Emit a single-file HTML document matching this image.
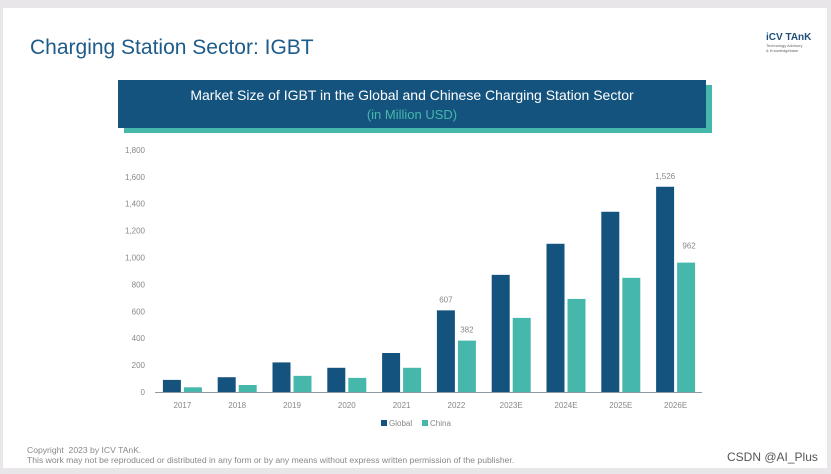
<!DOCTYPE html>
<html><head><meta charset="utf-8"><style>
body{margin:0;width:831px;height:474px;background:#e9e6ea;font-family:"Liberation Sans",sans-serif;overflow:hidden;position:relative}
#slide{position:absolute;left:3px;top:8px;width:824px;height:460px;background:#fff}
.t{position:absolute;white-space:nowrap}
</style></head><body>
<div id="slide"></div>
<div class="t" style="left:30px;top:36px;font-size:21px;color:#1d5b8a">Charging Station Sector: IGBT</div>
<div class="t" style="left:766px;top:32px;font-size:10px;font-weight:bold;color:#1d4f7a">iCV TAnK<div style="font-size:4px;font-weight:normal;color:#666;line-height:5px">Technology Advisory<br>&amp; Knowledgebase</div></div>
<div style="position:absolute;left:124px;top:85px;width:588px;height:48px;background:#45b8ab"></div>
<div style="position:absolute;left:118px;top:80px;width:588px;height:48px;background:#15537f;text-align:center;color:#fff;font-size:14px;line-height:20px;padding-top:5px;box-sizing:border-box">
<div>Market Size of IGBT in the Global and Chinese Charging Station Sector</div>
<div style="color:#45b8ab;font-size:13px">(in Million USD)</div></div>
<svg id="chart" width="831" height="474" style="position:absolute;left:0;top:0"></svg>
<div class="t" style="left:27px;top:445px;font-size:8.6px;color:#888;line-height:10px">Copyright &nbsp;2023 by ICV TAnK.<br>This work may not be reproduced or distributed in any form or by any means without express written permission of the publisher.</div>
<div class="t" style="left:727px;top:450px;font-size:12px;color:#555">CSDN @AI_Plus</div>
<script>
const categories=["2017","2018","2019","2020","2021","2022","2023E","2024E","2025E","2026E"];
const globalVals=[90,110,220,180,290,607,871,1102,1340,1526];
const chinaVals=[35,52,120,105,180,382,551,692,849,962];
const yTicks=[0,200,400,600,800,1000,1200,1400,1600,1800];
const labeled={5:true,9:true};
const svg=document.getElementById('chart');
const NS='http://www.w3.org/2000/svg';
const y0=392,ppu=0.1345,x0=155,band=54.8;
const y=v=>y0-v*ppu;
const xc=i=>x0+band*(i+0.5);
function mk(t,a,txt){const e=document.createElementNS(NS,t);for(const k in a)e.setAttribute(k,a[k]);if(txt!=null)e.textContent=txt;svg.appendChild(e);return e;}
yTicks.forEach(v=>{
 const e=mk('text',{x:145,y:y(v)+3,'text-anchor':'end','font-size':8,fill:'#888'},v.toLocaleString('en-US'));
 
 
});
categories.forEach((c,i)=>{
 const g=mk('rect',{x:xc(i)-19.5,y:y(globalVals[i]),width:18,height:globalVals[i]*ppu,fill:'#15537f'});
 
 
 const h=mk('rect',{x:xc(i)+1.5,y:y(chinaVals[i]),width:18,height:chinaVals[i]*ppu,fill:'#45b8ab'});
 
 
 const l=mk('text',{x:xc(i),y:408,'text-anchor':'middle','font-size':8,fill:'#888'},c);
 
 
 if(labeled[i]){
  const a=mk('text',{x:xc(i)-10.5,y:y(globalVals[i])-8,'text-anchor':'middle','font-size':8,fill:'#888'},globalVals[i].toLocaleString('en-US'));
  
  
  const b=mk('text',{x:xc(i)+10.5+(i==9?3:0),y:y(chinaVals[i])-(i==9?14:8),'text-anchor':'middle','font-size':8,fill:'#888'},chinaVals[i].toLocaleString('en-US'));
  
  
 }
});
const ax=mk('line',{x1:x0,x2:702,y1:y0+0.5,y2:y0+0.5,stroke:'#8a9aa6','stroke-width':1});


const lg1=mk('rect',{x:381,y:420,width:6,height:6,fill:'#15537f'});


const lt1=mk('text',{x:389,y:426,'font-size':8,fill:'#888'},'Global');


const lg2=mk('rect',{x:422,y:420,width:6,height:6,fill:'#45b8ab'});


const lt2=mk('text',{x:430,y:426,'font-size':8,fill:'#888'},'China');


</script>
</body></html>
